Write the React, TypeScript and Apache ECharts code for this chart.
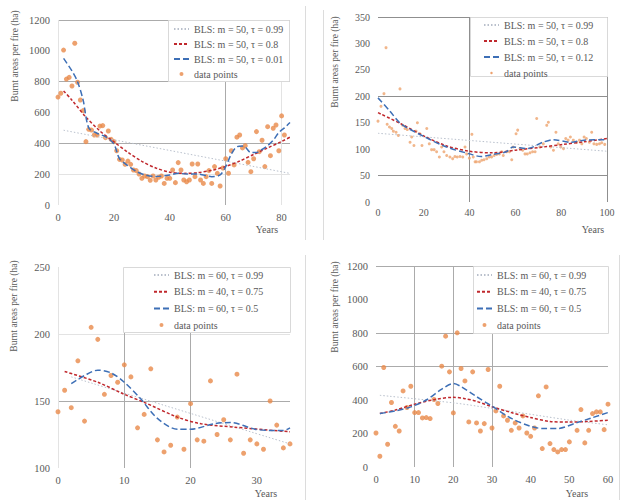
import React, { useEffect, useRef } from "react";
import * as echarts from "echarts";

// ---------- DATA ----------
// Panel 1 (top-left)
const p1Years = [0,1,2,3,4,5,6,7,8,9,10,11,12,13,14,15,16,17,18,19,20,21,22,23,24,25,26,27,28,29,30,31,32,33,34,35,36,37,38,39,40,41,42,43,44,45,46,47,48,49,50,51,52,53,54,55,56,57,58,59,60,61,62,63,64,65,66,67,68,69,70,71,72,73,74,75,76,77,78,79,80,81];
const p1Burnt = [700,725,1005,817,828,772,1049,796,681,612,411,491,486,454,454,512,515,437,480,426,411,352,296,292,264,285,264,227,223,201,173,188,184,160,188,162,180,188,140,173,173,227,145,275,227,162,151,162,266,184,266,162,140,184,223,140,249,205,123,240,300,206,352,260,440,454,370,385,277,216,300,476,346,420,249,508,320,498,519,352,578,454];
const p1Fit099: [number, number][] = [[2,485],[83,205]];
const p1Fit08: [number, number][] = [[2,740],[5,680],[10,570],[15,480],[20,410],[25,342],[30,283],[35,240],[40,213],[45,205],[50,210],[55,225],[60,250],[65,285],[70,328],[75,370],[80,412],[83,440]];
const p1Fit001: [number, number][] = [[2,951],[5,870],[7,800],[9,680],[11,500],[14,465],[17,443],[20,396],[22,300],[25,255],[28,218],[31,196],[35,185],[40,195],[43,206],[46,201],[50,201],[55,184],[58,195],[60,249],[62,330],[64,378],[66,382],[67,376],[69,340],[71,340],[73,360],[75,385],[77,420],[79,470],[81,500],[83,535]];
const p1Names = ["BLS: m = 50, τ = 0.99", "BLS: m = 50, τ = 0.8", "BLS: m = 50, τ = 0.01", "data points"];

// Panel 2 (top-right)
const p2Years = [0,1.3,2.6,3.5,4,5,6,6.7,7.9,8.9,9.6,10.8,11.8,12.8,14,14.7,15.7,16.6,17.2,18.3,19.2,21.3,22.4,23.4,24.5,25.6,26.8,27.8,28.8,30,31.4,32.6,33.6,34.6,35.8,37,38,38.7,39.9,41,41.6,42.4,43,44.3,45.3,46.3,47.5,48.6,49.6,50.7,51.8,53,54,54.7,56.2,57.4,58.4,59,60.3,61,62,63.2,64.2,65.2,66.4,67.5,68.6,69.3,70.7,72.2,73.7,74.4,75.4,76.6,77.7,78.7,79.8,81,82,83,84,85.3,86.8,88,89,90,91,92.3,93.3,94.3,95.5,96.7,97.7,99];
const p2Burnt = [153,181,205,292,147,142,139,134,132,126,214,145,139,137,113,123,107,134,150,129,107,139,110,99,99,95,85,104,95,88,85,82,86,85,86,85,104,91,83,128,85,76,76,76,79,80,82,85,85,88,90,91,95,88,95,95,80,104,129,136,101,98,91,91,93,95,95,158,104,110,145,151,104,98,132,110,104,101,120,117,123,117,113,117,110,123,120,113,132,110,109,110,112,109];
const p2Fit099: [number, number][] = [[0,130],[100,96]];
const p2Fit08: [number, number][] = [[0,169],[10,148],[20,125],[30,106],[40,96],[50,93],[60,98],[72,104],[81,109],[90,114],[100,120]];
const p2Fit012: [number, number][] = [[0,197],[5,173],[10,148],[20,124],[30,104],[40,91],[45,86],[50,90],[56,95],[59,104],[65,101],[72,113],[76.6,118],[84,113],[90,117],[100,118]];
const p2Names = ["BLS: m = 50, τ = 0.99", "BLS: m = 50, τ = 0.8", "BLS: m = 50, τ = 0.12", "data points"];

// Panel 3 (bottom-left)
const p3Years = [0,1,2,3,4,5,6,7,8,9,10,11,12,13,14,15,16,17,18,19,20,21,22,23,24,25,26,27,28,29,30,31,32,33,34,35];
const p3Burnt = [142,158,145,180,135,205,196,155,169,164,177,168,130,140,174,121,112,117,138,114,148,121,120,165,125,136,121,170,111,121,118,114,150,132,115,118];
const p3Fit099: [number, number][] = [[2,168],[35,118]];
const p3Fit075: [number, number][] = [[1,172],[6,164],[10,155],[13,149],[18,138],[21.6,133],[26.6,130.5],[35,127]];
const p3Fit05: [number, number][] = [[2,163],[4,169],[6,173],[8,171],[10,164],[12.4,152],[15,137],[18,129],[20,129],[23.6,133],[26,134],[29.7,129],[32,128],[34,128],[35,130]];
const p34Names = ["BLS: m = 60, τ = 0.99", "BLS: m = 40, τ = 0.75", "BLS: m = 60, τ = 0.5", "data points"];

// Panel 4 (bottom-right)
const p4Years = [0,1,2,3,4,5,6,7,8,9,10,11,12,13,14,15,16,17,18,19,20,21,22,23,24,25,26,27,28,29,30,31,32,33,34,35,36,37,38,39,40,41,42,43,44,45,46,47,48,49,50,52,53,54,55,56,57,58,59,60];
const p4Burnt = [203,64,594,136,385,243,215,454,355,482,325,325,293,295,289,403,379,602,781,568,323,801,588,514,269,568,263,215,259,582,233,335,482,305,279,219,263,233,305,203,183,233,425,110,478,140,104,90,104,104,150,219,343,144,219,319,329,329,223,375];
const p4Fit099: [number, number][] = [[1,428],[20,383],[30,350],[50,280],[60,252]];
const p4Fit075: [number, number][] = [[1,319],[5,340],[10,375],[15,402],[20,416],[23,408],[26,392],[30,360],[35,325],[40,295],[45,272],[50,268],[55,272],[60,279]];
const p4Fit05: [number, number][] = [[1,319],[5,335],[9,359],[13,400],[17,465],[20,498],[22,480],[26,420],[30,363],[35,290],[40,243],[43,230],[47,230],[52,265],[56,295],[60,325]];

// ---------- STYLE ----------
const FONT = "'Liberation Serif', 'Times New Roman', 'DejaVu Serif', serif";
const TXT = "#595959";
const ORANGE = "#e8894a";
const RED = "#c0282d";
const BLUE = "#3d6fb6";
const GRAY = "#b9c0cc";
const N = "rgba(0,0,0,0)";
const G = "#ababab";
const L = "#e3e3e3";
const DOT_ICON = "path://M0,0h0.01v0.01h-0.01zM10,10h0.01v0.01h-0.01zM2.5,5a2.5,2.5 0 1,0 5,0a2.5,2.5 0 1,0 -5,0z";
const DOT_ICON_SMALL = "path://M0,0h0.01v0.01h-0.01zM10,10h0.01v0.01h-0.01zM3.5,5a1.5,1.5 0 1,0 3,0a1.5,1.5 0 1,0 -3,0z";

function xAxis(gi: number, max: number, interval: number, colors: string[], margin: number, fs: number, hideMax: boolean) {
  return {
    type: "value", gridIndex: gi, min: 0, max, interval,
    axisLine: { show: false }, axisTick: { show: false },
    axisLabel: { color: TXT, fontFamily: FONT, fontSize: fs, margin, showMaxLabel: !hideMax, formatter: (v: number) => String(v) },
    splitLine: { show: true, lineStyle: { color: colors, width: 1 } },
  };
}
function yAxis(gi: number, min: number, max: number, interval: number, colors: string[], fs: number) {
  return {
    type: "value", gridIndex: gi, min, max, interval,
    axisLine: { show: false }, axisTick: { show: false },
    axisLabel: { color: TXT, fontFamily: FONT, fontSize: fs, margin: 8, formatter: (v: number) => String(v) },
    splitLine: { show: true, lineStyle: { color: colors, width: 1 } },
  };
}
function pts(xs: number[], ys: number[]) {
  return xs.map((x, i) => [x, ys[i]]);
}
function panelSeries(gi: number, names: string[], xs: number[], ys: number[], f1: [number, number][], f2: [number, number][], f3: [number, number][], dot: number, dotColor: string) {
  const line = (name: string, data: [number, number][], color: string, width: number, type: any) => ({
    type: "line", name, xAxisIndex: gi, yAxisIndex: gi, data, smooth: 0.3, symbol: "none", showSymbol: false,
    lineStyle: { color, width, type }, itemStyle: { color }, z: 3, silent: true,
  });
  return [
    { type: "scatter", name: names[3], xAxisIndex: gi, yAxisIndex: gi, data: pts(xs, ys), symbolSize: dot, itemStyle: { color: dotColor }, z: 2, silent: true },
    line(names[0], f1, GRAY, 1, [1.5, 2]),
    line(names[1], f2, RED, 1.5, [3, 2]),
    line(names[2], f3, BLUE, 1.5, [6, 3]),
  ];
}
function legend(names: string[], left: number, top: number, gap: number, dotIcon: string) {
  const hide = { opacity: 0 };
  return {
    orient: "vertical", left, top, padding: 0, itemWidth: 15, itemHeight: 8, itemGap: gap,
    selectedMode: false, z: 7,
    textStyle: { fontFamily: FONT, fontSize: 10, color: TXT, lineHeight: 12 },
    data: [
      { name: names[0], itemStyle: hide },
      { name: names[1], itemStyle: hide },
      { name: names[2], itemStyle: hide },
      { name: names[3], icon: dotIcon },
    ],
  };
}
function box(x: number, y: number, w: number, h: number) {
  return { type: "rect", z: 6, shape: { x: x + 0.5, y: y + 0.5, width: w, height: h }, style: { fill: "#ffffff", stroke: "#d9d9d9", lineWidth: 1 } };
}
function vname(x: number, y: number) {
  return { type: "text", z: 6, x, y, rotation: Math.PI / 2, style: { text: "Burnt areas per fire (ha)", fontFamily: FONT, fontSize: 9.5, fill: TXT, align: "center", verticalAlign: "middle" } };
}
function years(x: number, y: number) {
  return { type: "text", z: 6, x, y, style: { text: "Years", fontFamily: FONT, fontSize: 10, fill: TXT, align: "center", verticalAlign: "middle" } };
}
function frame(x: number, y1: number, y2: number) {
  return { type: "line", z: 1, shape: { x1: x + 0.5, y1, x2: x + 0.5, y2 }, style: { stroke: "#dcdcdc", lineWidth: 1 } };
}

export default function App() {
  const ref = useRef<HTMLDivElement>(null);
  useEffect(() => {
    document.body.style.margin = "0";
    if (!ref.current) return;
    const chart = echarts.init(ref.current, undefined, { renderer: "svg" });
    chart.setOption({
      animation: false,
      backgroundColor: "#ffffff",
      textStyle: { fontFamily: FONT },
      grid: [
        { left: 58, top: 20, width: 232, height: 185 },
        { left: 378, top: 17, width: 229, height: 185 },
        { left: 58, top: 267, width: 232, height: 201 },
        { left: 376, top: 266, width: 232, height: 201 },
      ],
      xAxis: [
        xAxis(0, 83, 20, [L, N, N, G, L, N], 7, 10.5, true),
        xAxis(1, 100, 20, [N, N, "#8f8f8f", N, N, "#8f8f8f"], 5, 10, false),
        xAxis(2, 35, 10, [L, G, G, N, N], 7, 10.5, true),
        xAxis(3, 60, 10, [N, G, G, G, N, N, N], 7, 10.5, false),
      ],
      yAxis: [
        yAxis(0, 0, 1200, 200, [N, L, G, N, G, N, G], 10.5),
        yAxis(1, 0, 350, 50, [N, "#8f8f8f", N, N, "#8f8f8f", N, N, "#8f8f8f"], 10),
        yAxis(2, 100, 250, 50, [N, G, L, N], 10.5),
        yAxis(3, 0, 1200, 200, [N, N, N, G, G, N, G], 10.5),
      ],
      legend: [
        legend(p1Names, 173, 23, 3, DOT_ICON),
        legend(p2Names, 483, 19, 4, DOT_ICON_SMALL),
        legend(p34Names, 153, 269, 4.7, DOT_ICON),
        legend(p34Names, 476, 269, 4.7, DOT_ICON),
      ],
      graphic: {
        elements: [
          frame(305, 6, 240), frame(323, 10, 240), frame(305, 255, 500), frame(619, 255, 500),
          box(168, 20, 121, 61), box(470, 17, 137, 59), box(123, 267, 167, 65), box(473, 266, 135, 67),
          vname(15, 56), vname(335, 62), vname(14, 306), vname(335, 307),
          years(267, 229), years(593, 229), years(266, 493), years(577, 493),
        ],
      },
      series: [
        ...panelSeries(0, p1Names, p1Years, p1Burnt, p1Fit099, p1Fit08, p1Fit001, 5, ORANGE),
        ...panelSeries(1, p2Names, p2Years, p2Burnt, p2Fit099, p2Fit08, p2Fit012, 3, "#eda46e"),
        ...panelSeries(2, p34Names, p3Years, p3Burnt, p3Fit099, p3Fit075, p3Fit05, 5, ORANGE),
        ...panelSeries(3, p34Names, p4Years, p4Burnt, p4Fit099, p4Fit075, p4Fit05, 5, ORANGE),
      ],
    });
    return () => chart.dispose();
  }, []);
  return <div ref={ref} style={{ width: 621, height: 500 }} />;
}
